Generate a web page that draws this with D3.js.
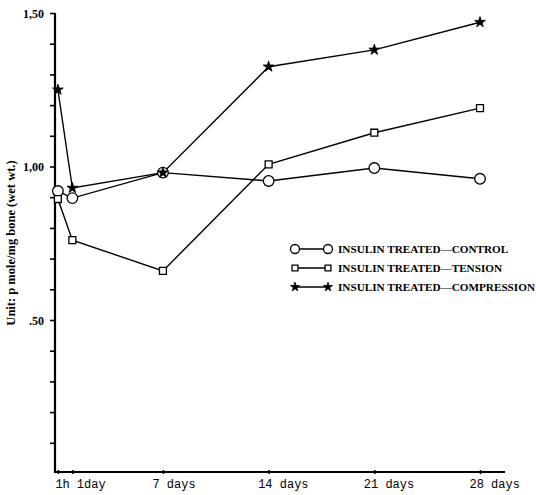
<!DOCTYPE html>
<html>
<head>
<meta charset="utf-8">
<script src="https://cdn.jsdelivr.net/npm/d3@7"></script>
<style>
html,body{margin:0;padding:0;background:#fff;}
svg{display:block;}
</style>
</head>
<body>
<svg id="chart" width="536" height="495"></svg>
<script>
// ---- data ----
const timeDays = [1/24, 1, 7, 14, 21, 28];
const tickLabels = ["1h", "1day", "7 days", "14 days", "21 days", "28 days"];
const control = [0.92, 0.897, 0.98, 0.953, 0.995, 0.96];
const tension = [0.894, 0.76, 0.66, 1.007, 1.11, 1.19];
const compression = [1.25, 0.93, 0.98, 1.325, 1.38, 1.47];
const seriesNames = ["INSULIN TREATED\u2014CONTROL", "INSULIN TREATED\u2014TENSION", "INSULIN TREATED\u2014COMPRESSION"];
const yTickValues = [0.1,0.2,0.3,0.4,0.5,0.6,0.7,0.8,0.9,1.0,1.1,1.2,1.3,1.4,1.5];
const yTickText = {"0.5": ".50", "1": "1,00", "1.5": "1,50"};

const svg = d3.select("#chart");
const x = d3.scaleLinear().domain([-0.15, 28]).range([55, 480]);
const y = d3.scaleLinear().domain([0, 1.5]).range([473.5, 13]);
const x0 = x(-0.15), yBase = 472;

// y axis
const yAxis = d3.axisLeft(y).tickValues(yTickValues).tickSize(5)
  .tickFormat(d => yTickText[String(+d.toFixed(2))] || "");
const gy = svg.append("g").attr("transform", `translate(${x0},0)`).call(yAxis);
gy.select(".domain").remove();
gy.selectAll(".tick line").attr("stroke", "#000").attr("stroke-width", 1.6);
gy.selectAll(".tick text").attr("x", -11).attr("dy", "0.35em")
  .attr("font-family", "Liberation Serif, serif").attr("font-weight", "bold")
  .attr("font-size", 12).attr("fill", "#000");
svg.append("line").attr("x1", x0).attr("x2", x0).attr("y1", y(1.5)).attr("y2", yBase + 1)
  .attr("stroke", "#000").attr("stroke-width", 2.2);

// x axis
svg.append("line").attr("x1", x0).attr("x2", 505).attr("y1", yBase).attr("y2", yBase)
  .attr("stroke", "#000").attr("stroke-width", 1.8);
const xAxis = d3.axisBottom(x).tickValues(timeDays).tickSize(4).tickFormat((d,i) => tickLabels[i]);
const gx = svg.append("g").attr("transform", `translate(0,${yBase - 2})`).call(xAxis);
gx.select(".domain").remove();
gx.selectAll(".tick line").attr("stroke", "#000").attr("stroke-width", 1.6);
gx.selectAll(".tick text")
  .attr("font-family", "Liberation Mono, monospace").attr("font-size", 12).attr("fill", "#000")
  .attr("text-anchor", "start").attr("y", 9)
  .attr("x", (d,i) => i === 0 ? -3 : (i === 1 ? 4 : -11));

// y label
svg.append("text").attr("transform", "translate(15,243) rotate(-90)")
  .attr("text-anchor", "middle").attr("font-family", "Liberation Serif, serif")
  .attr("font-weight", "bold").attr("font-size", 12.5).attr("fill", "#000")
  .text("Unit: p mole/mg bone (wet wt.)");

const line = d3.line().x((d,i) => x(timeDays[i])).y(d => y(d));
const allSeries = [
  {vals: control, sym: "circle"},
  {vals: tension, sym: "square"},
  {vals: compression, sym: "star"}
];
allSeries.forEach(s => {
  svg.append("path").datum(s.vals).attr("d", line)
    .attr("fill", "none").attr("stroke", "#000").attr("stroke-width", 1.4);
});

function drawMarker(g, sym, cx, cy, scale) {
  scale = scale || 1;
  if (sym === "circle") {
    g.append("circle").attr("cx", cx).attr("cy", cy).attr("r", 5.3 * scale)
      .attr("fill", "#fff").attr("stroke", "#000").attr("stroke-width", 1.3);
  } else if (sym === "square") {
    g.append("path").attr("d", d3.symbol(d3.symbolSquare, 48 * scale * scale)())
      .attr("transform", `translate(${cx},${cy})`)
      .attr("fill", "#fff").attr("stroke", "#000").attr("stroke-width", 1.3);
  } else {
    g.append("path").attr("d", d3.symbol(d3.symbolStar, 36 * scale * scale)())
      .attr("transform", `translate(${cx},${cy})`)
      .attr("fill", "#000").attr("stroke", "#000").attr("stroke-width", 0.8);
  }
}
const gm = svg.append("g");
allSeries.forEach(s => {
  s.vals.forEach((v,i) => drawMarker(gm, s.sym, x(timeDays[i]), y(v)));
});

// legend
const legY = [249, 268, 287];
const lg = svg.append("g");
allSeries.forEach((s, i) => {
  lg.append("line").attr("x1", 295).attr("x2", 328).attr("y1", legY[i]).attr("y2", legY[i])
    .attr("stroke", "#000").attr("stroke-width", 1.3);
  drawMarker(lg, s.sym, 295, legY[i], 0.85);
  drawMarker(lg, s.sym, 328, legY[i], 0.85);
  lg.append("text").attr("x", 338).attr("y", legY[i]).attr("dy", "0.35em")
    .attr("font-family", "Liberation Serif, serif").attr("font-weight", "bold")
    .attr("font-size", 11.2).attr("fill", "#000").text(seriesNames[i]);
});
</script>
</body>
</html>
